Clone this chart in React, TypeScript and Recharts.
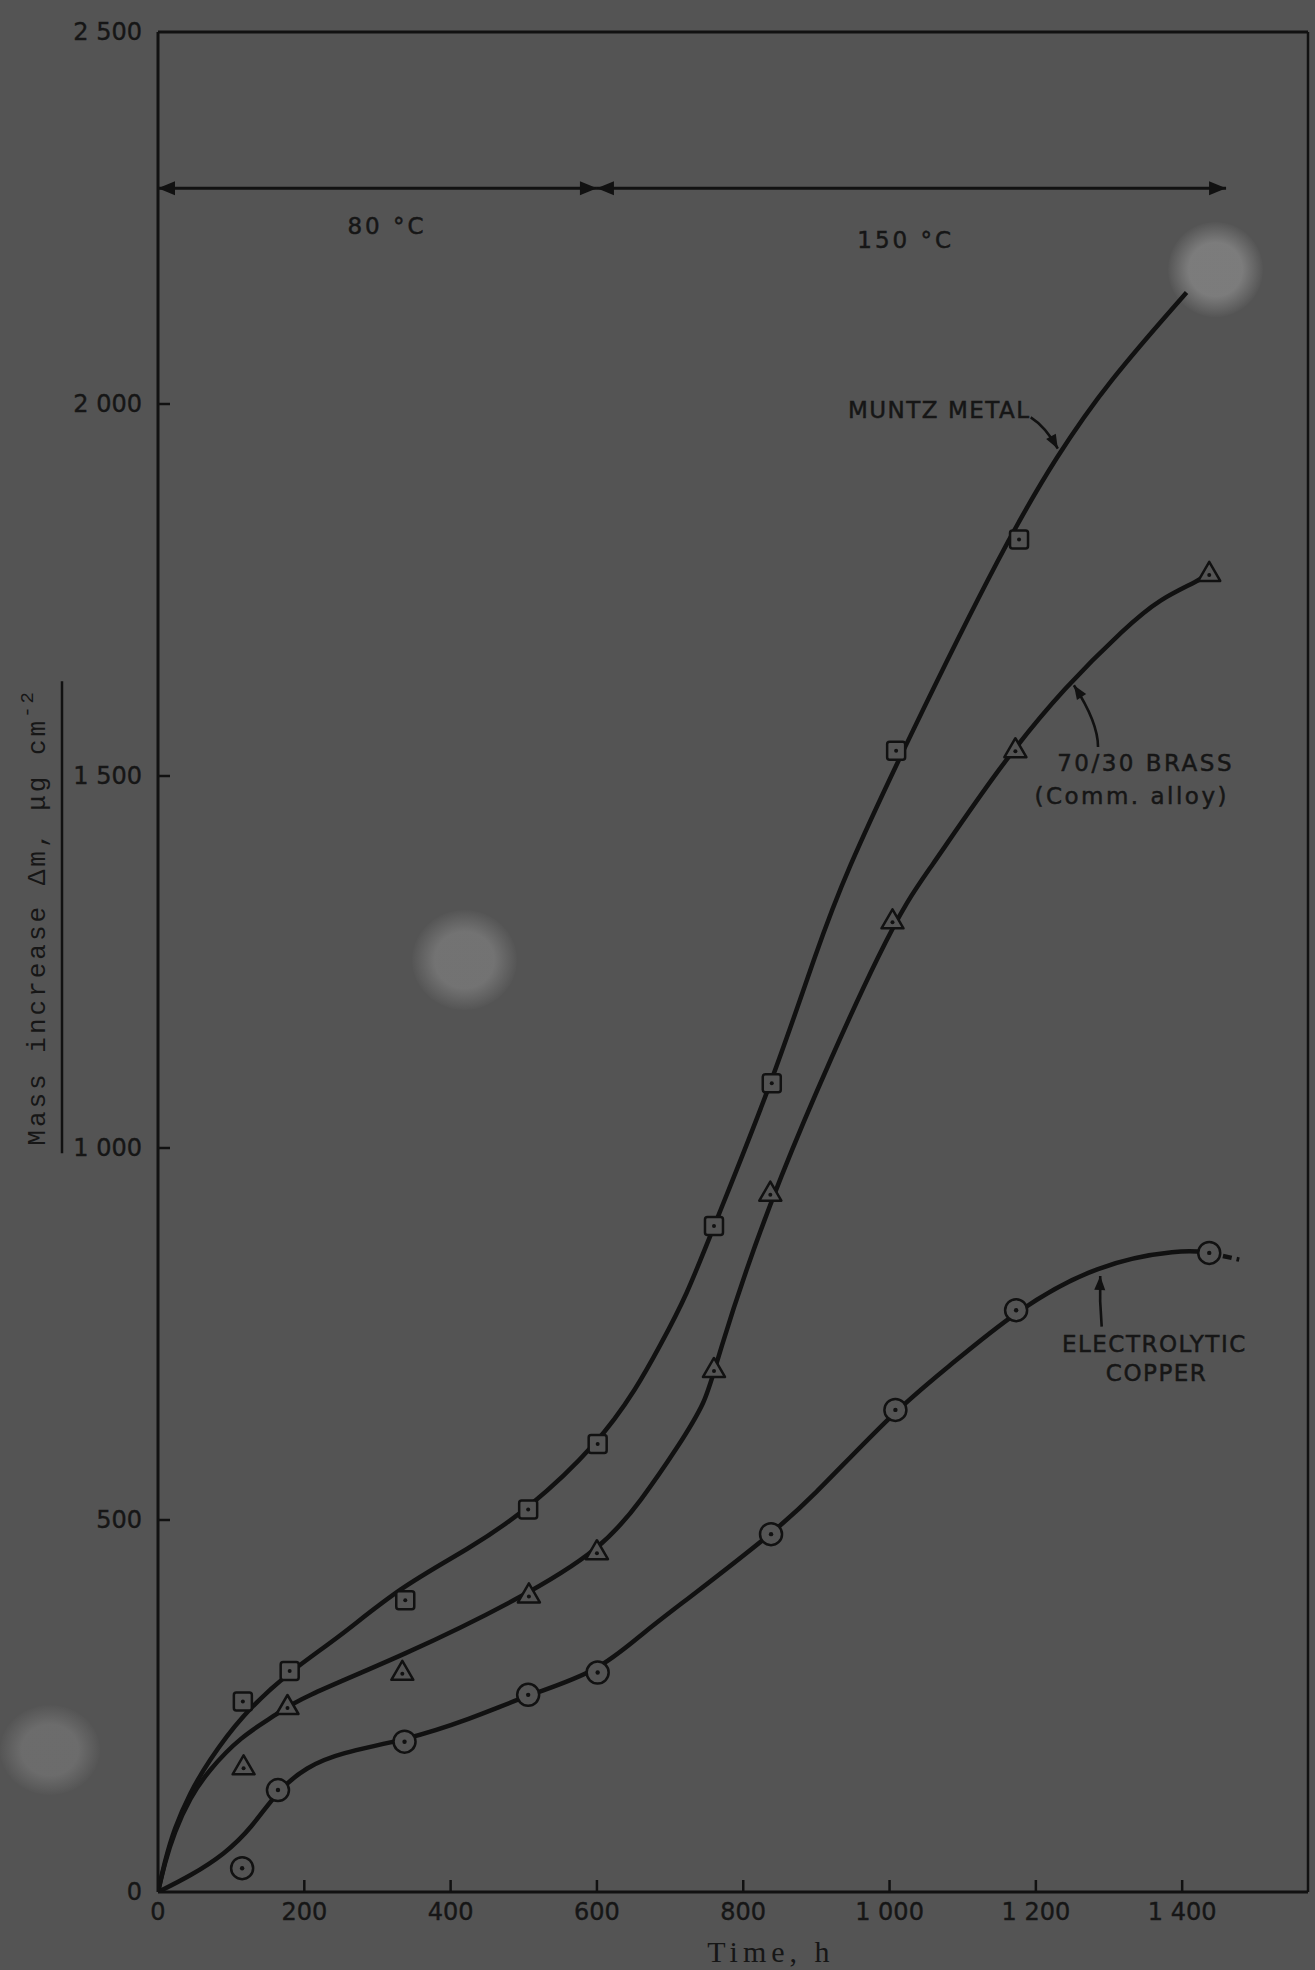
import React from 'react';
import {
  ComposedChart,
  Line,
  Scatter,
  XAxis,
  YAxis,
  ReferenceLine,
  ReferenceDot,
} from 'recharts';

const CHART_W = 1315;
const CHART_H = 1970;
const BG = '#545454';
const INK = '#111111';
const TXT = '#161616';
const SANS = '"DejaVu Sans", "Liberation Sans", sans-serif';
const MONO = '"Liberation Mono", "DejaVu Sans Mono", monospace';
const SERIF = '"Liberation Serif", "DejaVu Serif", serif';

// ---- axes ----
const xDomainMax = 1572;
const yDomainMax = 2500;
const xTicks = [0, 200, 400, 600, 800, 1000, 1200, 1400];
const xTickLabels = ['0', '200', '400', '600', '800', '1 000', '1 200', '1 400'];
const yTicks = [0, 500, 1000, 1500, 2000, 2500];
const yTickLabels = ['0', '500', '1 000', '1 500', '2 000', '2 500'];

// ---- measured points (time h, mass increase µg cm^-2) ----
const muntzTimes = [116, 180, 338, 506, 601, 760, 839, 1009, 1177];
const muntzMasses = [256, 297, 392, 514, 602, 895, 1087, 1534, 1818];
const brassTimes = [117, 177, 334, 507, 600, 760, 837, 1004, 1172, 1437];
const brassMasses = [169, 250, 296, 400, 458, 703, 940, 1306, 1536, 1773];
const copperTimes = [115, 164, 337, 506, 601, 838, 1008, 1173, 1437];
const copperMasses = [32, 137, 202, 265, 295, 481, 648, 782, 859];

// ---- hand-drawn smooth curves ----
const muntzCurveTimes = [0, 9, 22, 44, 68, 113, 180, 246, 331, 425, 506, 601, 655, 686, 722, 760, 839, 902, 938, 1025, 1156, 1229, 1298, 1406];
const muntzCurveMasses = [0, 40, 85, 134, 174, 236, 297, 341, 410, 461, 514, 602, 678, 734, 800, 895, 1087, 1270, 1365, 1549, 1809, 1931, 2029, 2150];
const brassCurveTimes = [0, 9, 22, 44, 68, 113, 163, 190, 336, 493, 608, 661, 710, 750, 760, 837, 1004, 1049, 1153, 1241, 1323, 1369, 1424, 1437];
const brassCurveMasses = [0, 38, 80, 127, 162, 209, 239, 259, 318, 393, 462, 527, 597, 661, 703, 940, 1306, 1366, 1517, 1621, 1700, 1738, 1763, 1773];
const copperCurveTimes = [0, 45, 91, 127, 164, 203, 248, 337, 426, 506, 601, 666, 727, 838, 889, 1008, 1077, 1173, 1283, 1399, 1437];
const copperCurveMasses = [0, 22, 51, 85, 137, 168, 187, 204, 232, 265, 295, 351, 396, 481, 525, 648, 703, 782, 844, 864, 859];
const copperTailTimes = [1437, 1478];
const copperTailMasses = [859, 850];

// ---- temperature periods ----
const periodStarts = [0, 600];
const periodEnds = [600, 1460];
const periodLabels = ['80 °C', '150 °C'];
const periodArrowLevel = 2290;

const zip = (xs: number[], ys: number[]) => xs.map((x, i) => ({ x, y: ys[i] }));

// ---- shapes ----
const SquareMarker = (p: any) => {
  const { cx, cy } = p;
  if (cx == null || cy == null) return <g />;
  return (
    <g>
      <rect x={cx - 9} y={cy - 9} width={18} height={18} rx={2.5} fill={BG} stroke={INK} strokeWidth={2.5} />
      <circle cx={cx} cy={cy} r={2} fill={INK} />
    </g>
  );
};

const TriangleMarker = (p: any) => {
  const { cx, cy } = p;
  if (cx == null || cy == null) return <g />;
  return (
    <g>
      <path
        d={`M${cx},${cy - 11} L${cx + 11},${cy + 8} L${cx - 11},${cy + 8} Z`}
        fill={BG}
        stroke={INK}
        strokeWidth={2.5}
        strokeLinejoin="round"
      />
      <circle cx={cx} cy={cy + 2} r={2} fill={INK} />
    </g>
  );
};

const CircleMarker = (p: any) => {
  const { cx, cy } = p;
  if (cx == null || cy == null) return <g />;
  return (
    <g>
      <circle cx={cx} cy={cy} r={11} fill={BG} stroke={INK} strokeWidth={2.5} />
      <circle cx={cx} cy={cy} r={2.2} fill={INK} />
    </g>
  );
};

const arrowHead = (tx: number, ty: number, fx: number, fy: number, len: number, half: number) => {
  const a = Math.atan2(ty - fy, tx - fx);
  const bx = tx - len * Math.cos(a);
  const by = ty - len * Math.sin(a);
  const px = -Math.sin(a) * half;
  const py = Math.cos(a) * half;
  return `M${tx},${ty} L${bx + px},${by + py} L${bx - px},${by - py} Z`;
};

const DoubleArrow = (p: any) => {
  const { x1, y1, x2, y2 } = p;
  return (
    <g>
      <line x1={x1} y1={y1} x2={x2} y2={y2} stroke={INK} strokeWidth={3} />
      <path d={arrowHead(x1, y1, x2, y2, 17, 7)} fill={INK} />
      <path d={arrowHead(x2, y2, x1, y1, 17, 7)} fill={INK} />
    </g>
  );
};

const makeCurvedArrow = (a: number, b: number) => (p: any) => {
  const { x1, y1, x2, y2 } = p;
  const qx = x1 + (x2 - x1) * a;
  const qy = y1 + (y2 - y1) * b;
  return (
    <g>
      <path d={`M${x1},${y1} Q${qx},${qy} ${x2},${y2}`} fill="none" stroke={INK} strokeWidth={2.6} />
      <path d={arrowHead(x2, y2, qx, qy, 14, 5.5)} fill={INK} />
    </g>
  );
};

const textShape = (label: string, size: number, spacing: number) => (p: any) => (
  <text
    x={p.cx}
    y={p.cy}
    textAnchor="middle"
    dominantBaseline="central"
    fontFamily={SANS}
    fontSize={size}
    letterSpacing={spacing}
    fill={TXT}
    stroke={TXT}
    strokeWidth={0.5}
  >
    {label}
  </text>
);

const XTick = (props: any) => {
  const { x, y, payload } = props;
  const i = xTicks.indexOf(payload.value);
  const label = i >= 0 ? xTickLabels[i] : String(payload.value);
  return (
    <g>
      {payload.value !== 0 && <line x1={x} x2={x} y1={y} y2={y - 12} stroke={INK} strokeWidth={2.5} />}
      <text x={x} y={y + 28} textAnchor="middle" fontFamily={SANS} fontSize={24} fill={TXT} stroke={TXT} strokeWidth={0.4}>
        {label}
      </text>
    </g>
  );
};

const YTick = (props: any) => {
  const { x, y, payload } = props;
  const i = yTicks.indexOf(payload.value);
  const label = i >= 0 ? yTickLabels[i] : String(payload.value);
  return (
    <g>
      {payload.value !== 0 && payload.value !== yDomainMax && (
        <line x1={x} x2={x + 12} y1={y} y2={y} stroke={INK} strokeWidth={2.5} />
      )}
      <text
        x={x - 16}
        y={y}
        textAnchor="end"
        dominantBaseline="central"
        fontFamily={SANS}
        fontSize={24}
        fill={TXT}
        stroke={TXT}
        strokeWidth={0.4}
      >
        {label}
      </text>
    </g>
  );
};

const YAxisTitle = (props: any) => {
  const vb = props.viewBox || { x: 98, y: 32, width: 60, height: 1860 };
  const lineX = vb.x + vb.width;
  const bx = lineX - 113;
  const cy = vb.y + vb.height * 0.476;
  return (
    <g>
      <text
        x={bx}
        y={cy}
        transform={`rotate(-90 ${bx} ${cy})`}
        textAnchor="middle"
        fontFamily={MONO}
        fontSize={26}
        letterSpacing={3}
        fill={TXT}
      >
        Mass increase Δm, μg cm
        <tspan dy={-12} fontSize={19}>
          -2
        </tspan>
      </text>
      <line x1={lineX - 96} x2={lineX - 96} y1={cy - 236} y2={cy + 236} stroke={INK} strokeWidth={2.5} />
    </g>
  );
};

const XAxisTitle = (props: any) => {
  const vb = props.viewBox || { x: 158, y: 1892, width: 1150, height: 40 };
  return (
    <text
      x={vb.x + vb.width * 0.533}
      y={vb.y + 70}
      textAnchor="middle"
      fontFamily={SERIF}
      fontSize={30}
      letterSpacing={5}
      fill={TXT}
    >
      Time, h
    </text>
  );
};

const Smudge = ({ left, top, w, h, c }: any) => (
  <div
    style={{
      position: 'absolute',
      left,
      top,
      width: w,
      height: h,
      borderRadius: '50%',
      background: `radial-gradient(ellipse at center, ${c} 0%, ${c} 40%, rgba(84,84,84,0) 72%)`,
    }}
  />
);

export default function App() {
  return (
    <div style={{ position: 'fixed', left: 0, top: 0, width: CHART_W, height: CHART_H, background: BG, overflow: 'hidden' }}>
      <Smudge left={412} top={910} w={105} h={100} c="rgba(118,118,118,0.9)" />
      <Smudge left={1168} top={222} w={95} h={95} c="rgba(128,128,128,0.9)" />
      <Smudge left={0} top={1705} w={100} h={90} c="rgba(112,112,112,0.85)" />
      <div style={{ position: 'absolute', left: 0, top: 0 }}>
        <ComposedChart
          width={CHART_W}
          height={CHART_H}
          margin={{ top: 32, right: 7, bottom: 38, left: 98 }}
        >
          <XAxis
            type="number"
            dataKey="x"
            domain={[0, xDomainMax]}
            ticks={xTicks}
            interval={0}
            height={40}
            tickSize={0}
            tickMargin={0}
            tickLine={false}
            tick={<XTick />}
            axisLine={{ stroke: INK, strokeWidth: 3 }}
            allowDataOverflow
            label={<XAxisTitle />}
          />
          <YAxis
            type="number"
            dataKey="y"
            domain={[0, yDomainMax]}
            ticks={yTicks}
            interval={0}
            width={60}
            tickSize={0}
            tickMargin={0}
            tickLine={false}
            tick={<YTick />}
            axisLine={{ stroke: INK, strokeWidth: 3 }}
            allowDataOverflow
            label={<YAxisTitle />}
          />

          {/* plot frame: top and right borders */}
          <ReferenceLine y={yDomainMax} stroke={INK} strokeWidth={3} ifOverflow="visible" />
          <ReferenceLine x={xDomainMax} stroke={INK} strokeWidth={2.5} ifOverflow="visible" />

          {/* temperature periods */}
          {periodStarts.map((s, i) => (
            <ReferenceLine
              key={`period-${i}`}
              segment={[
                { x: s, y: periodArrowLevel },
                { x: periodEnds[i], y: periodArrowLevel },
              ]}
              shape={DoubleArrow}
              ifOverflow="visible"
            />
          ))}
          <ReferenceDot x={313} y={2239} r={0} ifOverflow="visible" shape={textShape(periodLabels[0], 23, 3)} />
          <ReferenceDot x={1022} y={2220} r={0} ifOverflow="visible" shape={textShape(periodLabels[1], 23, 3)} />

          {/* fitted curves */}
          <Line
            data={zip(muntzCurveTimes, muntzCurveMasses)}
            dataKey="y"
            type="basis"
            stroke={INK}
            strokeWidth={4.5}
            dot={false}
            activeDot={false}
            isAnimationActive={false}
          />
          <Line
            data={zip(brassCurveTimes, brassCurveMasses)}
            dataKey="y"
            type="basis"
            stroke={INK}
            strokeWidth={4.5}
            dot={false}
            activeDot={false}
            isAnimationActive={false}
          />
          <Line
            data={zip(copperCurveTimes, copperCurveMasses)}
            dataKey="y"
            type="basis"
            stroke={INK}
            strokeWidth={4.5}
            dot={false}
            activeDot={false}
            isAnimationActive={false}
          />
          <Line
            data={zip(copperTailTimes, copperTailMasses)}
            dataKey="y"
            type="linear"
            stroke={INK}
            strokeWidth={4.5}
            strokeDasharray="9 5"
            dot={false}
            activeDot={false}
            isAnimationActive={false}
          />

          {/* measured points */}
          <Scatter data={zip(muntzTimes, muntzMasses)} dataKey="y" shape={SquareMarker} isAnimationActive={false} />
          <Scatter data={zip(brassTimes, brassMasses)} dataKey="y" shape={TriangleMarker} isAnimationActive={false} />
          <Scatter data={zip(copperTimes, copperMasses)} dataKey="y" shape={CircleMarker} isAnimationActive={false} />

          {/* annotations */}
          <ReferenceDot x={1068} y={1992} r={0} ifOverflow="visible" shape={textShape('MUNTZ METAL', 23, 1.5)} />
          <ReferenceLine
            segment={[
              { x: 1193, y: 1982 },
              { x: 1230, y: 1940 },
            ]}
            shape={makeCurvedArrow(0.55, 0.3)}
            ifOverflow="visible"
          />
          <ReferenceDot x={1350} y={1518} r={0} ifOverflow="visible" shape={textShape('70/30 BRASS', 23, 2.5)} />
          <ReferenceDot x={1331} y={1473} r={0} ifOverflow="visible" shape={textShape('(Comm. alloy)', 23, 2.5)} />
          <ReferenceLine
            segment={[
              { x: 1285, y: 1539 },
              { x: 1252, y: 1622 },
            ]}
            shape={makeCurvedArrow(0, 0.4)}
            ifOverflow="visible"
          />
          <ReferenceDot x={1362} y={737} r={0} ifOverflow="visible" shape={textShape('ELECTROLYTIC', 23, 1.5)} />
          <ReferenceDot x={1365} y={697} r={0} ifOverflow="visible" shape={textShape('COPPER', 23, 1.5)} />
          <ReferenceLine
            segment={[
              { x: 1290, y: 760 },
              { x: 1288, y: 828 },
            ]}
            shape={makeCurvedArrow(1.6, 0.5)}
            ifOverflow="visible"
          />
        </ComposedChart>
      </div>
    </div>
  );
}
